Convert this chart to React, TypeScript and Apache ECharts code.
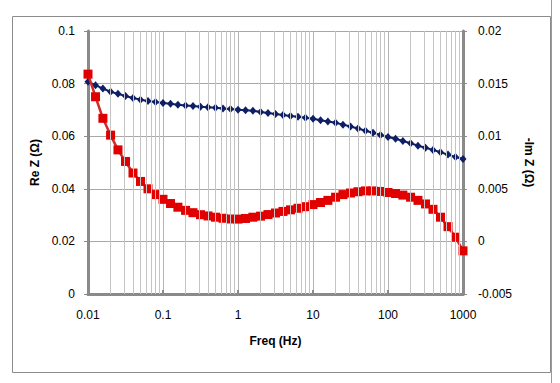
import React, { useEffect, useRef } from "react";
import * as echarts from "echarts";

const freq = [
  0.01, 0.0126, 0.0158, 0.02, 0.0251, 0.0316, 0.0398, 0.0501, 0.0631, 0.0794,
  0.1, 0.126, 0.158, 0.2, 0.251, 0.316, 0.398, 0.501, 0.631, 0.794,
  1, 1.26, 1.58, 2, 2.51, 3.16, 3.98, 5.01, 6.31, 7.94,
  10, 12.6, 15.8, 20, 25.1, 31.6, 39.8, 50.1, 63.1, 79.4,
  100, 126, 158, 200, 251, 316, 398, 501, 631, 794, 1000,
];

const reZ = [
  0.0807, 0.0794, 0.0781, 0.0769, 0.0761, 0.0753, 0.0745, 0.0739, 0.0734, 0.073,
  0.0726, 0.0723, 0.072, 0.0717, 0.0715, 0.0712, 0.071, 0.0708, 0.0705, 0.0703,
  0.0701, 0.0699, 0.0697, 0.0692, 0.0688, 0.0684, 0.0681, 0.0677, 0.0674, 0.067,
  0.0666, 0.0661, 0.0656, 0.0651, 0.0644, 0.0637, 0.0629, 0.0621, 0.0613, 0.0605,
  0.0597, 0.059, 0.0582, 0.0573, 0.0564, 0.0556, 0.0548, 0.0539, 0.053, 0.0521, 0.0513,
];

const negImZ = [
  0.0159, 0.01375, 0.0117, 0.0101, 0.0087, 0.0076, 0.0065, 0.0057, 0.005, 0.00445,
  0.004, 0.0036, 0.00325, 0.00295, 0.00273, 0.00254, 0.00242, 0.0023, 0.0022, 0.00213,
  0.00212, 0.00218, 0.0023, 0.0024, 0.00255, 0.0027, 0.00285, 0.003, 0.00315, 0.0033,
  0.0035, 0.0037, 0.0039, 0.0042, 0.00445, 0.0046, 0.00472, 0.0048, 0.0048, 0.00475,
  0.00465, 0.00455, 0.0044, 0.0042, 0.0039, 0.00356, 0.00305, 0.0023, 0.0014, 0.0004, -0.0009,
];

const decades = [0.01, 0.1, 1, 10, 100];
const minorMultipliers = [2, 3, 4, 5, 6, 7, 8, 9];

const FONT = "Liberation Sans";

const fmt = (v: number) => String(+Number(v).toPrecision(6));

export default function App() {
  const ref = useRef<HTMLDivElement>(null);

  useEffect(() => {
    if (!ref.current) return;
    const chart = echarts.init(ref.current, undefined, { renderer: "svg" });

    const minorLines: any[] = [];
    decades.forEach((d) =>
      minorMultipliers.forEach((m) => minorLines.push({ xAxis: +(d * m).toPrecision(6) }))
    );

    const axisLabelStyle = { color: "#000", fontFamily: FONT, fontSize: 12 };
    const nameStyle = { color: "#000", fontFamily: FONT, fontSize: 12, fontWeight: "bold" as const };

    chart.setOption({
      animation: false,
      backgroundColor: "#fff",
      graphic: [
        {
          type: "rect",
          shape: { x: 12.5, y: 16.5, width: 538, height: 356 },
          style: { fill: "none", stroke: "#8c8c8c", lineWidth: 1 },
          silent: true,
        },
        {
          type: "line",
          shape: { x1: 551.5, y1: 0, x2: 551.5, y2: 383 },
          style: { stroke: "#9a9a9a", lineWidth: 1 },
          silent: true,
        },
      ],
      grid: { left: 88, right: 97, top: 31, bottom: 89, containLabel: false },
      xAxis: {
        type: "log",
        logBase: 10,
        min: 0.01,
        max: 1000,
        name: "Freq (Hz)",
        nameLocation: "middle",
        nameGap: 41,
        nameTextStyle: nameStyle,
        axisLine: { show: true, onZero: false, lineStyle: { color: "#8a8a8a", width: 3 } },
        axisTick: { show: true, inside: true, length: 4, lineStyle: { color: "#8a8a8a", width: 2 } },
        axisLabel: { ...axisLabelStyle, margin: 15, formatter: (v: number) => fmt(v) },
        splitLine: { show: true, lineStyle: { color: "#b4b4b4", width: 1 } },
        minorTick: { show: false },
        minorSplitLine: { show: false },
      },
      yAxis: [
        {
          type: "value",
          min: 0,
          max: 0.1,
          interval: 0.02,
          position: "left",
          name: "Re Z (Ω)",
          nameLocation: "middle",
          nameGap: 44,
          nameRotate: 90,
          nameTextStyle: nameStyle,
          axisLine: { show: true, lineStyle: { color: "#8a8a8a", width: 3 } },
          axisTick: { show: true, length: 4, lineStyle: { color: "#8a8a8a", width: 1 } },
          axisLabel: { ...axisLabelStyle, margin: 13, formatter: (v: number) => fmt(v) },
          splitLine: { show: true, lineStyle: { color: "#a8a8a8", width: 1 } },
        },
        {
          type: "value",
          min: -0.005,
          max: 0.02,
          interval: 0.005,
          position: "right",
          name: "-Im Z (Ω)",
          nameLocation: "middle",
          nameGap: 57,
          nameRotate: -90,
          nameTextStyle: nameStyle,
          axisLine: { show: true, lineStyle: { color: "#8a8a8a", width: 3 } },
          axisTick: { show: true, length: 4, lineStyle: { color: "#8a8a8a", width: 1 } },
          axisLabel: { ...axisLabelStyle, margin: 15, formatter: (v: number) => fmt(v) },
          splitLine: { show: false },
        },
      ],
      series: [
        {
          type: "line",
          name: "minor-grid",
          data: [],
          z: 1,
          silent: true,
          markLine: {
            silent: true,
            symbol: ["none", "none"],
            label: { show: false },
            emphasis: { disabled: true },
            lineStyle: { color: "#c4c4c4", width: 1, type: "solid" },
            data: minorLines,
          },
        },
        {
          type: "line",
          name: "Re Z",
          yAxisIndex: 0,
          data: freq.map((f, i) => [f, reZ[i]]),
          symbol: "diamond",
          symbolSize: [7, 8],
          lineStyle: { color: "#0f1f66", width: 2 },
          itemStyle: { color: "#0f1f66" },
          z: 3,
        },
        {
          type: "line",
          name: "-Im Z",
          yAxisIndex: 1,
          data: freq.map((f, i) => [f, negImZ[i]]),
          symbol: "rect",
          symbolSize: 9,
          lineStyle: { color: "#d42a2a", width: 2.5 },
          itemStyle: { color: "#e00000" },
          z: 4,
        },
      ],
    });

    return () => chart.dispose();
  }, []);

  return (
    <div
      ref={ref}
      style={{ position: "fixed", left: 0, top: 0, width: 560, height: 383, background: "#fff" }}
    />
  );
}
